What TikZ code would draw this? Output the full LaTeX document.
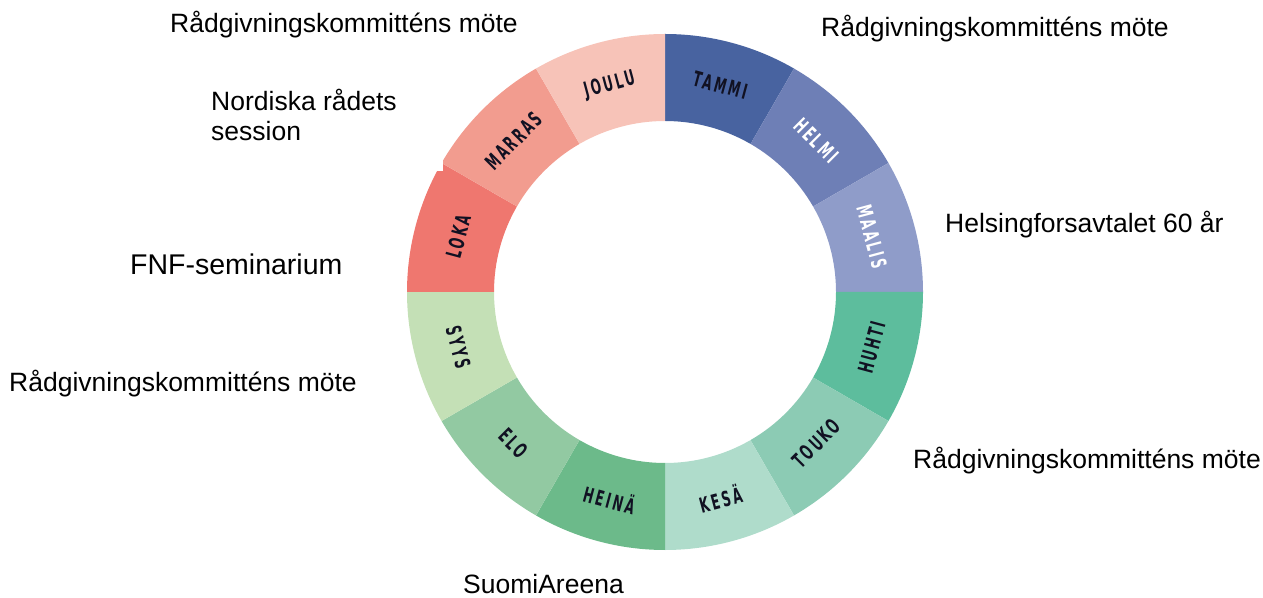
\documentclass[tikz,border=0pt]{standalone}
\usepackage{fontspec}
\setmainfont{Liberation Sans}
\newfontfamily\monthfont[LetterSpace=20]{DejaVu Sans}
\usepackage{graphicx}

\definecolor{tammi}{HTML}{4863A0}
\definecolor{helmi}{HTML}{6E7FB6}
\definecolor{maalis}{HTML}{8F9CC9}
\definecolor{huhti}{HTML}{5DBD9D}
\definecolor{touko}{HTML}{8CCBB4}
\definecolor{kesa}{HTML}{AFDCCB}
\definecolor{heina}{HTML}{6CBA8A}
\definecolor{elo}{HTML}{92C9A2}
\definecolor{syys}{HTML}{C4E0B6}
\definecolor{loka}{HTML}{EF776F}
\definecolor{marras}{HTML}{F29C8F}
\definecolor{joulu}{HTML}{F7C3B8}
\definecolor{ink}{HTML}{111122}

\begin{document}
\begin{tikzpicture}[x=1pt,y=1pt,
    event/.style={inner sep=0pt,anchor=base west,font=\fontsize{26.5}{30}\selectfont},
    month/.style={inner sep=0pt,font=\monthfont\bfseries\fontsize{21}{21}\selectfont}]

    \useasboundingbox (0,0) rectangle (1263,597);
    \coordinate (ctr) at (665,305);

    % --------------------------------------------------------- %
    % ------------- ring of the months
    % --------------------------------------------------------- %
    \foreach \nm/\col/\tcol/\rot [count=\i from 0] in {TAMMI/tammi/ink/-15,HELMI/helmi/white/-45,MAALIS/maalis/white/-75,
        HUHTI/huhti/ink/75,TOUKO/touko/ink/45,KESÄ/kesa/ink/15,HEINÄ/heina/ink/-15,ELO/elo/ink/-45,SYYS/syys/ink/-75,
        LOKA/loka/ink/75,MARRAS/marras/ink/45,JOULU/joulu/ink/15}{
      \pgfmathsetmacro\sa{90-30*\i}
      \pgfmathsetmacro\ea{60-30*\i}
      \pgfmathsetmacro\ma{75-30*\i}
      \fill[\col] ([shift={(\sa:258)}]ctr) arc[start angle=\sa,end angle=\ea,radius=258]
        -- ([shift={(\ea:171)}]ctr) arc[start angle=\ea,end angle=\sa,radius=171] -- cycle;
      \node[month,text=\tcol,rotate=\rot] (m\i) at ([shift={(\ma:214)}]ctr) {\scalebox{0.58}[1]{\nm}};
    }

    % box behind the session label
    \fill[white] (200,426) rectangle (443,517);

    % --------------------------------------------------------- %
    % ------------- events round the year
    % --------------------------------------------------------- %
    \node[event] (radA) at (170,564) {Rådgivningskommitténs möte};
    \node[event,anchor=north west,align=left] (session) at (211,508) {Nordiska rådets\\session};
    \node[event] (radB) at (821,560) {Rådgivningskommitténs möte};
    \node[event] (helsing) at (945,364) {Helsingforsavtalet 60 år};
    \node[event,font=\fontsize{28.5}{32}\selectfont] (fnf) at (130,322) {FNF-seminarium};
    \node[event] (radC) at (9,205) {Rådgivningskommitténs möte};
    \node[event] (radD) at (913,128) {Rådgivningskommitténs möte};
    \node[event] (suomi) at (463,4) {SuomiAreena};

  \end{tikzpicture}
\end{document}
